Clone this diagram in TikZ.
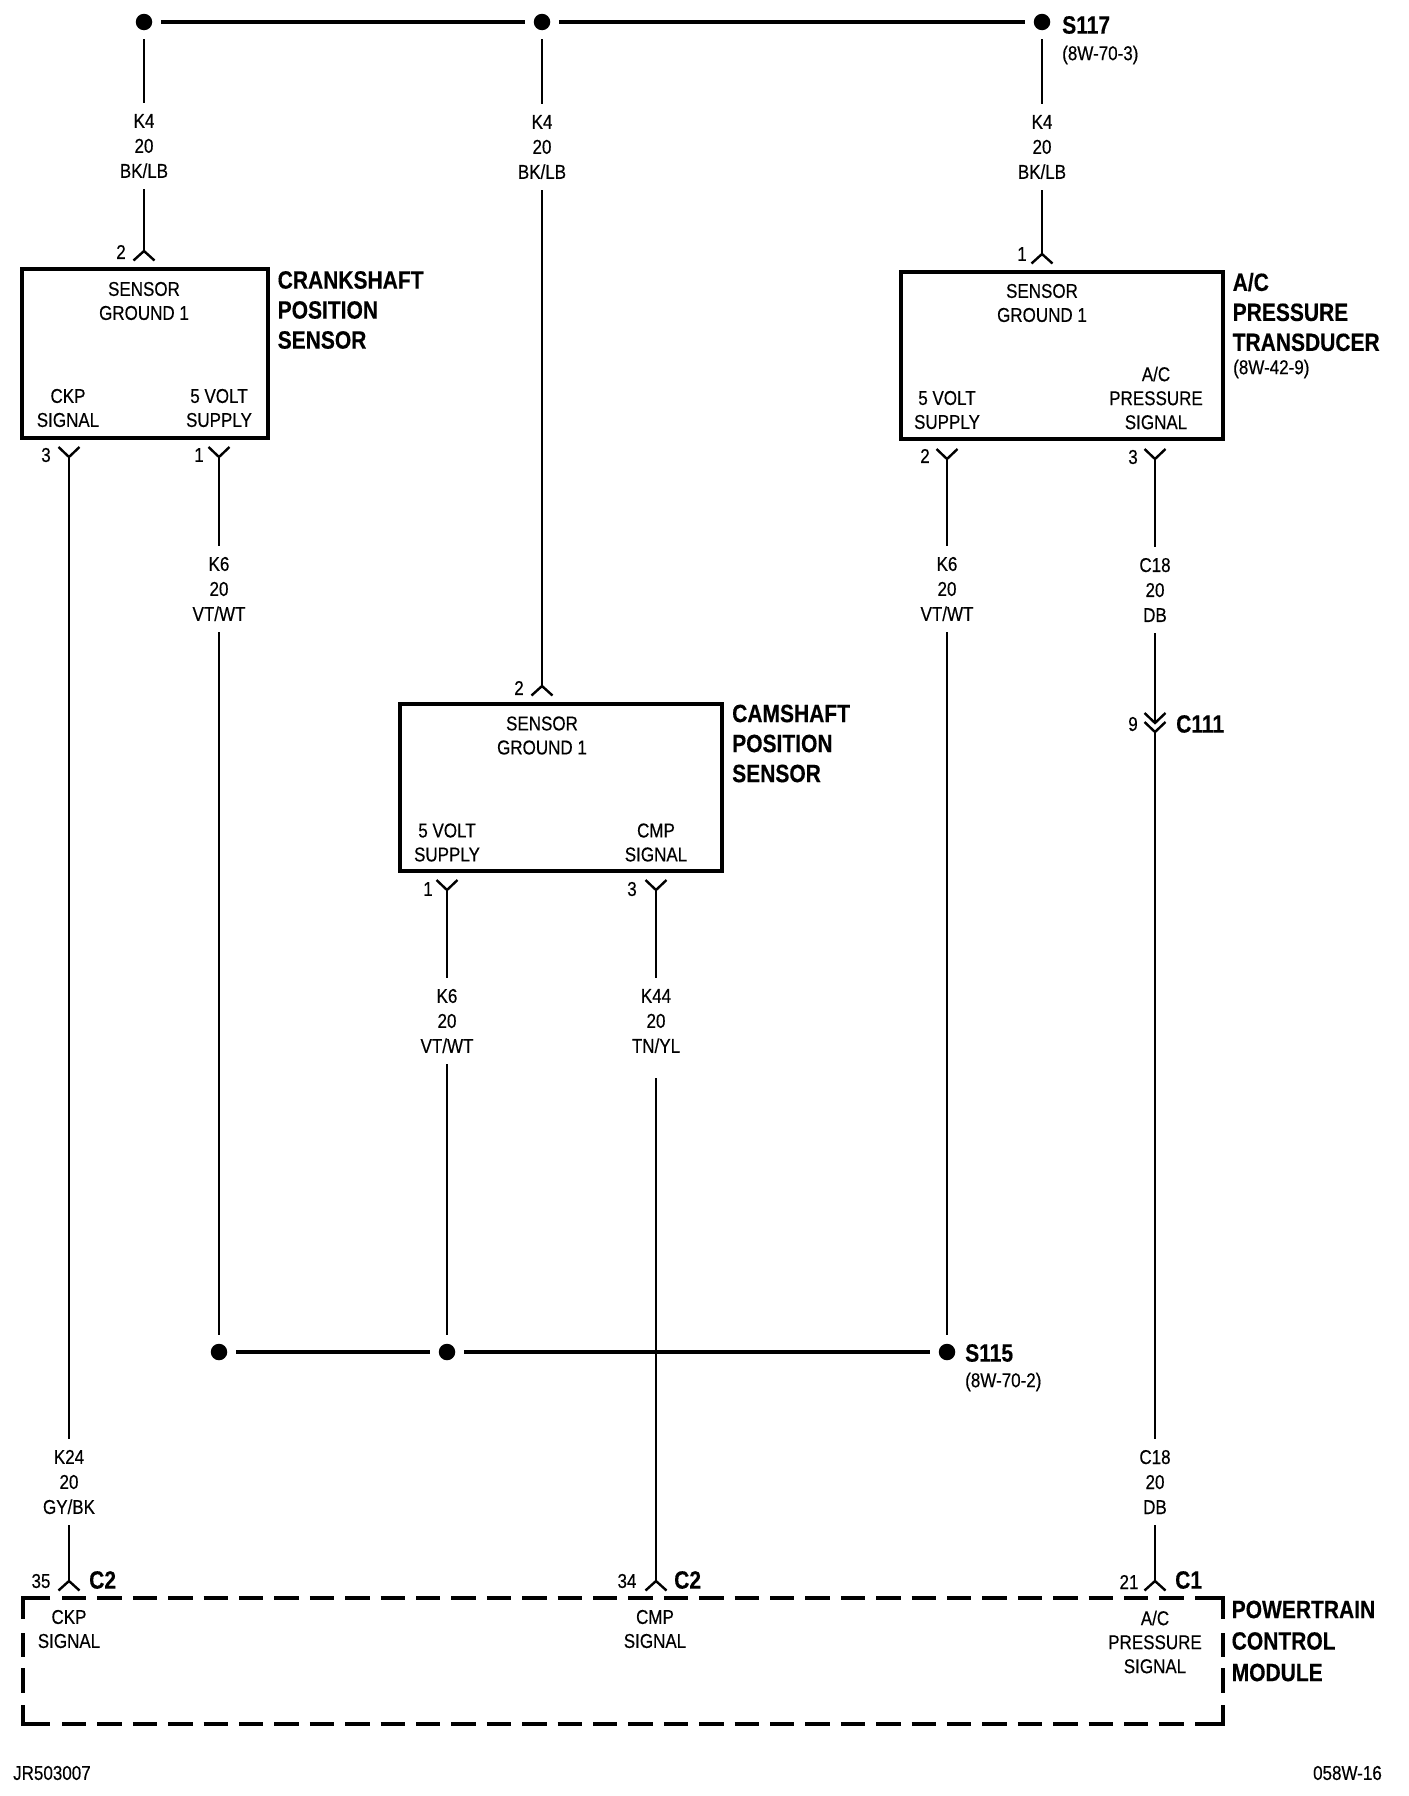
\documentclass[tikz,border=0pt]{standalone}
\usepackage{fontspec}
\setmainfont[FakeStretch=0.85,FakeBold=0.35,BoldFeatures={FakeStretch=0.84,FakeBold=0.35}]{Liberation Sans}
\tikzset{
	wire/.style={line width=2.7pt},
	buswire/.style={line width=3.8pt},
	pinup/.pic={\draw[line width=2.4pt] (-10.5,9.5) -- (0,0) -- (10.5,9.5);},
	pindown/.pic={\draw[line width=2.4pt] (-10.5,-10) -- (0,0) -- (10.5,-10);},
	splice/.style={circle,fill=black,minimum size=16.5pt,inner sep=0pt,outer sep=9pt},
	sensorbox/.style={draw,line width=3.8pt,inner sep=0pt},
	moduleline/.style={line width=4pt},
	moduledash/.style={line width=4pt,dash pattern=on 24.4pt off 11pt},
	gauge/.style={align=center,font=\fontsize{20}{25}\selectfont,minimum height=86pt,inner sep=0pt},
	pintext/.style={align=center,font=\fontsize{20}{24}\selectfont,inner sep=0pt},
	title/.style={align=left,anchor=west,font=\fontsize{25}{30}\selectfont\bfseries,inner sep=0pt},
	small/.style={anchor=west,font=\fontsize{20}{24}\selectfont,inner sep=0pt},
}
\begin{document}
\begin{tikzpicture}[x=1pt,y=-1pt]
	\useasboundingbox (0,0) rectangle (1408,1796);
	% boxes
	\node[sensorbox,minimum width=246pt,minimum height=169pt] (crankbox) at (145,353.5) {};
	\node[sensorbox,minimum width=322pt,minimum height=167pt] (acbox) at (1062,355.5) {};
	\node[sensorbox,minimum width=322pt,minimum height=167pt] (cambox) at (561,787.5) {};
	% module outline, corners then dashes
	\draw[moduleline] (50,1598) -- (22.5,1598) -- (22.5,1619);
	\draw[moduleline] (1195,1598) -- (1222.5,1598) -- (1222.5,1619);
	\draw[moduleline] (22.5,1705) -- (22.5,1724) -- (50,1724);
	\draw[moduleline] (1222.5,1705) -- (1222.5,1724) -- (1195,1724);
	\draw[moduledash] (62,1598) -- (1184,1598);
	\draw[moduledash] (62,1724) -- (1184,1724);
	\draw[moduledash] (22.5,1633) -- (22.5,1693);
	\draw[moduledash] (1222.5,1633) -- (1222.5,1693);
	% splices
	\node[splice] (topleft) at (144,22) {};
	\node[splice] (topmid) at (542,22) {};
	\node[splice] (s117) at (1042,22) {};
	\node[splice] (lowleft) at (219,1352) {};
	\node[splice] (lowmid) at (447,1352) {};
	\node[splice] (s115) at (947,1352) {};
	% pins on top of boxes
	\path (144,251) coordinate (crankgnd) pic{pinup};
	\path (542,686) coordinate (camgnd) pic{pinup};
	\path (1042,254) coordinate (acgnd) pic{pinup};
	% pins under boxes
	\path (69,457) coordinate (crankckp) pic{pindown};
	\path (219,457) coordinate (crankvolt) pic{pindown};
	\path (447,890) coordinate (camvolt) pic{pindown};
	\path (656,890) coordinate (camcmp) pic{pindown};
	\path (947,459) coordinate (acvolt) pic{pindown};
	\path (1155,459) coordinate (acsig) pic{pindown};
	% connector c111
	\path (1155,723) coordinate (cupper) pic{pindown};
	\path (1155,732) coordinate (clower) pic{pindown};
	% pins on top of module
	\path (69,1581) coordinate (pcmckp) pic{pinup};
	\path (656,1581) coordinate (pcmcmp) pic{pinup};
	\path (1155,1581) coordinate (pcmsig) pic{pinup};
	% wire labels
	\node[gauge] (ka) at (144,146) {K4\\20\\BK/LB};
	\node[gauge] (kb) at (542,147) {K4\\20\\BK/LB};
	\node[gauge] (kc) at (1042,147) {K4\\20\\BK/LB};
	\node[gauge] (va) at (219,589) {K6\\20\\VT/WT};
	\node[gauge] (vb) at (447,1021) {K6\\20\\VT/WT};
	\node[gauge] (vc) at (947,589) {K6\\20\\VT/WT};
	\node[gauge] (tn) at (656,1021) {K44\\20\\TN/YL};
	\node[gauge] (dba) at (1155,590) {C18\\20\\DB};
	\node[gauge] (dbb) at (1155,1482) {C18\\20\\DB};
	\node[gauge] (gy) at (69,1482) {K24\\20\\GY/BK};
	\coordinate (tngap) at (656,1078);
	% wires
	\draw[buswire] (topleft) -- (topmid);
	\draw[buswire] (topmid) -- (s117);
	\draw[buswire] (lowleft) -- (lowmid);
	\draw[buswire] (lowmid) -- (s115);
	\draw[wire] (topleft) -- (ka);
	\draw[wire] (ka) -- (crankgnd);
	\draw[wire] (topmid) -- (kb);
	\draw[wire] (kb) -- (camgnd);
	\draw[wire] (s117) -- (kc);
	\draw[wire] (kc) -- (acgnd);
	\draw[wire] (crankckp) -- (gy);
	\draw[wire] (gy) -- (pcmckp);
	\draw[wire] (crankvolt) -- (va);
	\draw[wire] (va) -- (lowleft);
	\draw[wire] (camvolt) -- (vb);
	\draw[wire] (vb) -- (lowmid);
	\draw[wire] (camcmp) -- (tn);
	\draw[wire] (tngap) -- (pcmcmp);
	\draw[wire] (acvolt) -- (vc);
	\draw[wire] (vc) -- (s115);
	\draw[wire] (acsig) -- (dba);
	\draw[wire] (dba) -- (cupper);
	\draw[wire] (clower) -- (dbb);
	\draw[wire] (dbb) -- (pcmsig);
	% text in boxes
	\node[pintext] (crankname) at (144,301) {SENSOR\\GROUND 1};
	\node[pintext] (crankleft) at (68,408) {CKP\\SIGNAL};
	\node[pintext] (crankright) at (219,408) {5 VOLT\\SUPPLY};
	\node[pintext] (acname) at (1042,303) {SENSOR\\GROUND 1};
	\node[pintext] (acleft) at (947,410) {5 VOLT\\SUPPLY};
	\node[pintext] (acright) at (1156,398) {A/C\\PRESSURE\\SIGNAL};
	\node[pintext] (camname) at (542,735.5) {SENSOR\\GROUND 1};
	\node[pintext] (camleft) at (447,842.5) {5 VOLT\\SUPPLY};
	\node[pintext] (camright) at (656,842.5) {CMP\\SIGNAL};
	\node[pintext] (pcmleft) at (69,1629) {CKP\\SIGNAL};
	\node[pintext] (pcmmid) at (655,1629) {CMP\\SIGNAL};
	\node[pintext] (pcmright) at (1155,1642) {A/C\\PRESSURE\\SIGNAL};
	% titles
	\node[title] (cranktitle) at (277.5,310) {CRANKSHAFT\\POSITION\\SENSOR};
	\node[title] (camtitle) at (732,743.5) {CAMSHAFT\\POSITION\\SENSOR};
	\node[title] (actitle) at (1232.5,312) {A/C\\PRESSURE\\TRANSDUCER};
	\node[small] (acref) at (1233,369) {(8W-42-9)};
	\node[title,font=\fontsize{25}{31.5}\selectfont\bfseries] (pcmtitle) at (1231.5,1641) {POWERTRAIN\\CONTROL\\MODULE};
	\node[title] (s117text) at (1062,25) {S117};
	\node[small] (s117ref) at (1062,55) {(8W-70-3)};
	\node[title] (s115text) at (965,1353) {S115};
	\node[small] (s115ref) at (965,1382) {(8W-70-2)};
	\node[title] (c111text) at (1176,724) {C111};
	\node[title] (c2left) at (89,1580) {C2};
	\node[title] (c2mid) at (674,1580) {C2};
	\node[title] (c1right) at (1175,1580) {C1};
	% pin numbers
	\node[pintext] (numa) at (121,252) {2};
	\node[pintext] (numb) at (46,455) {3};
	\node[pintext] (numc) at (199,455) {1};
	\node[pintext] (numd) at (1022,254) {1};
	\node[pintext] (nume) at (925,456) {2};
	\node[pintext] (numf) at (1133,457) {3};
	\node[pintext] (numg) at (519,688) {2};
	\node[pintext] (numh) at (428,889) {1};
	\node[pintext] (numi) at (632,889) {3};
	\node[pintext] (numj) at (1133,724) {9};
	\node[pintext] (numk) at (41,1581) {35};
	\node[pintext] (numl) at (627,1581) {34};
	\node[pintext] (numm) at (1129,1582) {21};
	% drawing numbers
	\node[small] (jobleft) at (13,1773) {JR503007};
	\node[small,anchor=east] (jobright) at (1382,1773) {058W-16};
\end{tikzpicture}
\end{document}
